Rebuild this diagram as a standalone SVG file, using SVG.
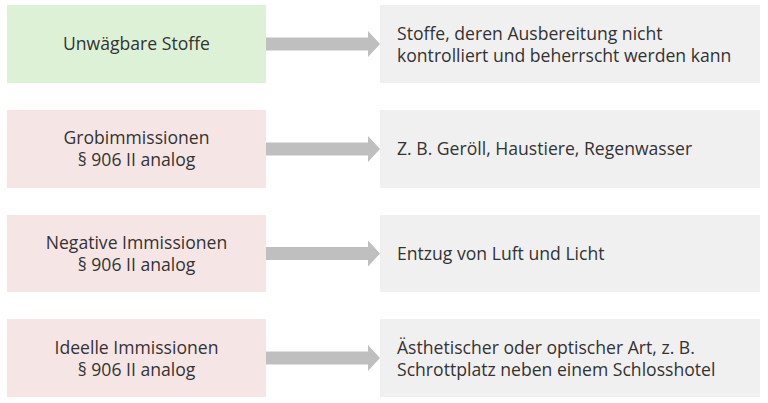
<svg xmlns="http://www.w3.org/2000/svg" width="768" height="403" viewBox="0 0 768 403">
<style>
.t{font-family:"Open Sans","Liberation Sans",sans-serif;font-size:17.6px;fill:#333333}
.c{text-anchor:middle}
.g{fill:#ddf1d6}
.p{fill:#f6e5e5}
.r{fill:#f0f0f0}
.a{fill:#bfbfbf}
</style>
<rect width="768" height="403" fill="#ffffff"/>
<g id="n1"><rect class="g" x="7" y="5" width="259" height="78"/><text class="t c" x="136.5" y="50">Unwägbare Stoffe</text></g>
<g id="n2"><rect class="p" x="7" y="110" width="259" height="78"/><text class="t c" x="136.5" y="144">Grobimmissionen</text><text class="t c" x="136.5" y="166">§ 906 II analog</text></g>
<g id="n3"><rect class="p" x="7" y="215" width="259" height="77"/><text class="t c" x="136.5" y="249">Negative Immissionen</text><text class="t c" x="136.5" y="271">§ 906 II analog</text></g>
<g id="n4"><rect class="p" x="7" y="319" width="259" height="78"/><text class="t c" x="136.5" y="354">Ideelle Immissionen</text><text class="t c" x="136.5" y="376">§ 906 II analog</text></g>
<g id="m1"><rect class="r" x="380" y="5" width="380" height="78"/><text class="t" x="397" y="40">Stoffe, deren Ausbereitung nicht</text><text class="t" x="397" y="62">kontrolliert und beherrscht werden kann</text></g>
<g id="m2"><rect class="r" x="380" y="110" width="380" height="78"/><text class="t" x="397" y="155">Z. B. Geröll, Haustiere, Regenwasser</text></g>
<g id="m3"><rect class="r" x="380" y="215" width="380" height="77"/><text class="t" x="397" y="260">Entzug von Luft und Licht</text></g>
<g id="m4"><rect class="r" x="380" y="319" width="380" height="78"/><text class="t" x="397" y="354">Ästhetischer oder optischer Art, z. B.</text><text class="t" x="397" y="376">Schrottplatz neben einem Schlosshotel</text></g>
<g id="connectors">
<polygon class="a" points="266,37.5 368,37.5 368,31 380,44 368,57 368,50.5 266,50.5"/>
<polygon class="a" points="266,142.5 368,142.5 368,136 380,149 368,162 368,155.5 266,155.5"/>
<polygon class="a" points="266,247 368,247 368,240.5 380,253.5 368,266.5 368,260 266,260"/>
<polygon class="a" points="266,351.5 368,351.5 368,345 380,358 368,371 368,364.5 266,364.5"/>
</g>
</svg>
